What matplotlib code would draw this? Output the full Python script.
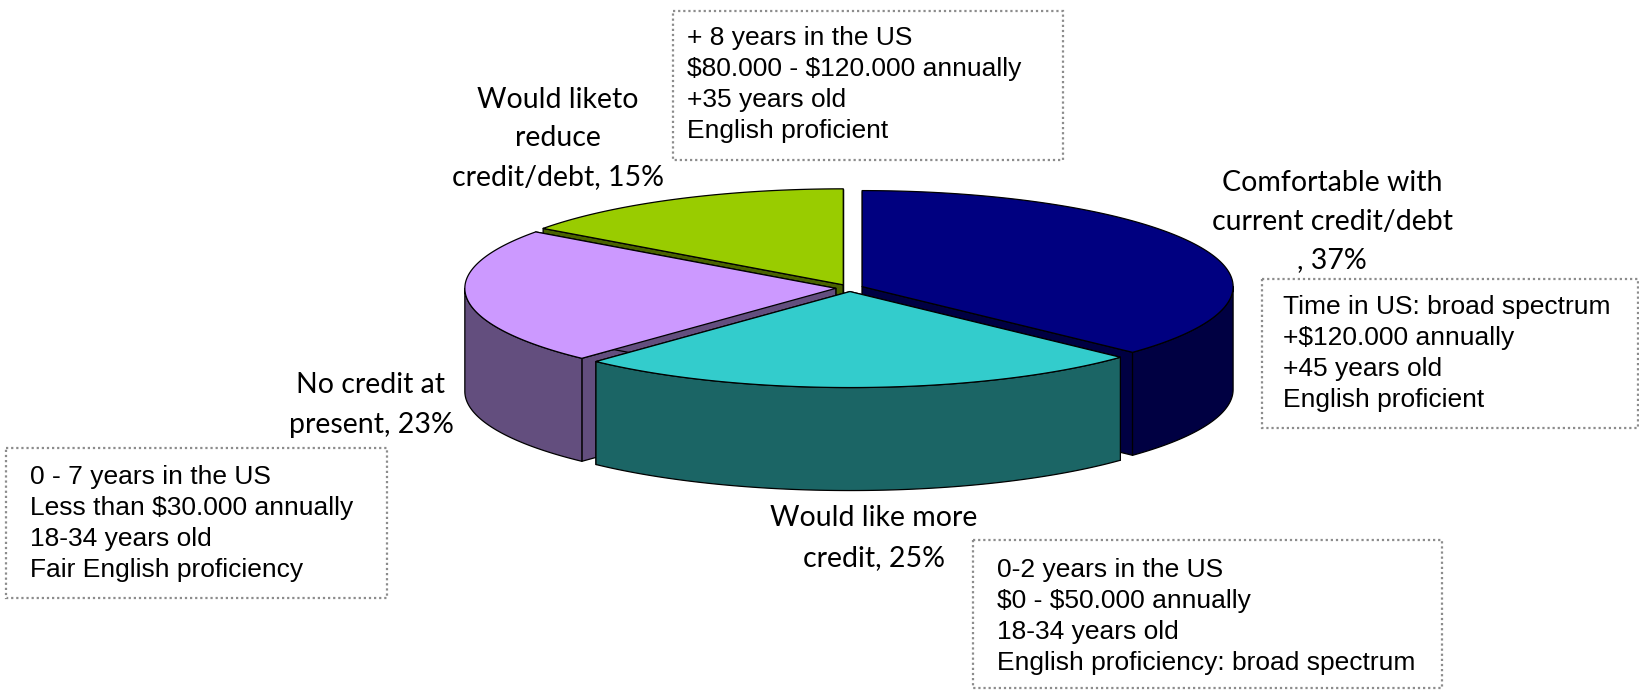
import numpy as np
import matplotlib
matplotlib.use("Agg")
import matplotlib.pyplot as plt
from matplotlib.patches import Polygon, Rectangle
from matplotlib import font_manager

plt.rcParams["text.parse_math"] = False

# slice data, clockwise from 12 o'clock
shares = [37, 25, 23, 15]
labels = ["Comfortable with\ncurrent credit/debt\n, 37%",
          "Would like more\ncredit, 25%",
          "No credit at\npresent, 23%",
          "Would liketo\nreduce\ncredit/debt, 15%"]
top_colors = ["#000080", "#33CCCC", "#CC99FF", "#99CC00"]
side_colors = ["#000042", "#1B6565", "#634E7E", "#4A6300"]

# profile boxes
box_texts = [
    ["Time in US: broad spectrum", "+$120.000 annually", "+45 years old", "English proficient"],
    ["0-2 years in the US", "$0 - $50.000 annually", "18-34 years old",
     "English proficiency: broad spectrum"],
    ["0 - 7 years in the US", "Less than $30.000 annually", "18-34 years old",
     "Fair English proficiency"],
    ["+ 8 years in the US", "$80.000 - $120.000 annually", "+35 years old", "English proficient"],
]

W, H = 1639, 690
CX, CY = 849.5, 288.0
RX, RY = 371.0, 96.0
DEPTH = 103.0
EXPLODE = 0.037


def has_font(name):
    try:
        font_manager.findfont(font_manager.FontProperties(family=name), fallback_to_default=False)
        return True
    except Exception:
        return False


label_font = "Lato" if has_font("Lato") else "DejaVu Sans"
box_font = "Liberation Sans"

fig = plt.figure(figsize=(W / 100, H / 100), dpi=100)
ax = fig.add_axes([0, 0, 1, 1])
ax.set_xlim(0, W)
ax.set_ylim(H, 0)
ax.axis("off")


def pt(cx, cy, a, dz=0.0):
    return cx + RX * np.cos(a), cy - RY * np.sin(a) + dz


# slice angles (degrees, decreasing = clockwise)
fr = np.array(shares, dtype=float) / sum(shares)
edges = 90 - 360 * np.concatenate([[0], np.cumsum(fr)])
slices = []
for i in range(len(shares)):
    a1, a2 = np.radians(edges[i]), np.radians(edges[i + 1])
    mid = (a1 + a2) / 2
    cx = CX + EXPLODE * RX * np.cos(mid)
    cy = CY - EXPLODE * RY * np.sin(mid)
    slices.append((np.sin(mid), i, a1, a2, cx, cy))

# back slices first
for _, i, a1, a2, cx, cy in sorted(slices, key=lambda s: -s[0]):
    kw = dict(edgecolor="black", linewidth=0.9, joinstyle="round")
    # radial walls
    for a in (a1, a2):
        x, y = pt(cx, cy, a)
        ax.add_patch(Polygon([(cx, cy), (x, y), (x, y + DEPTH), (cx, cy + DEPTH)],
                             facecolor=side_colors[i], **kw))
    # front part of the rim
    lo, hi = max(a2, -np.pi), min(a1, 0.0)
    if hi > lo:
        t = np.linspace(hi, lo, 120)
        xs, ys = pt(cx, cy, t)
        poly = np.column_stack([np.r_[xs, xs[::-1]], np.r_[ys, ys[::-1] + DEPTH]])
        ax.add_patch(Polygon(poly, facecolor=side_colors[i], **kw))
    # top face
    t = np.linspace(a1, a2, 200)
    xs, ys = pt(cx, cy, t)
    ax.add_patch(Polygon(np.column_stack([np.r_[cx, xs], np.r_[cy, ys]]),
                         facecolor=top_colors[i], **kw))

# slice labels
label_pos = [(1332, 183), (874, 518), (371, 385), (558, 100)]
label_gap = [38.5, 40, 40, 38.5]
for lab, (x, y), g in zip(labels, label_pos, label_gap):
    for k, line in enumerate(lab.split("\n")):
        ax.text(x, y + k * g, line, ha="center", va="center", fontsize=20.5,
                family=label_font, color="black")

# dotted boxes
box_rects = [(1262, 279, 1638, 428), (973, 540, 1442, 688), (6, 448, 387, 598), (673, 11, 1063, 160)]
text_starts = [(1283, 307), (997, 570), (30, 477), (687, 38)]
for (x0, y0, x1, y1), (tx, ty), lines in zip(box_rects, text_starts, box_texts):
    ax.add_patch(Rectangle((x0, y0), x1 - x0, y1 - y0, fill=False, edgecolor="#8c8c8c",
                           linewidth=1.6, linestyle=(0, (1, 1.3))))
    for k, line in enumerate(lines):
        ax.text(tx, ty + k * 31, line, ha="left", va="center", fontsize=19,
                family=box_font, color="black")

fig.savefig("out.png", dpi=100, facecolor="white")
